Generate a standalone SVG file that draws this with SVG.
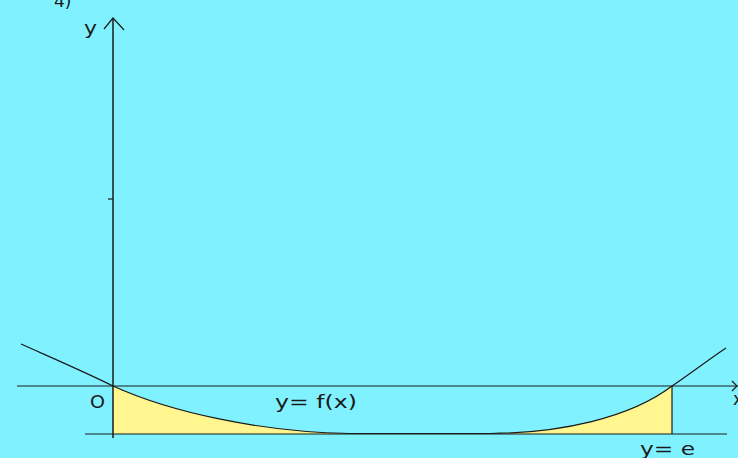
<svg xmlns="http://www.w3.org/2000/svg" width="738" height="458" viewBox="0 0 738 458">
<style>
.ax{stroke:#1a1a1a;stroke-width:1.5;fill:none}
.ln{stroke:#1a1a1a;stroke-width:1.2;fill:none}
.cv{stroke:#1a1a1a;stroke-width:1.2;fill:none}
.t{font-family:"DejaVu Sans",Verdana,sans-serif;font-size:17px;fill:#1a1a1a}
</style>
<rect width="738" height="458" fill="#80F2FF"/>
<g id="area">
<path d="M113,386 C170,412 260,432 350,433.5 L490,433.5 C560,433 630,418 672,386 L672,434 L113,434 Z" fill="#FFF68F"/>
</g>
<g id="connectors">
<line class="ln" x1="17" y1="386" x2="738" y2="386"/>
<polyline class="ln" points="732,381 737,386 732,391"/>
<line class="ln" x1="85" y1="434" x2="727" y2="434"/>
<line class="ln" x1="672" y1="386" x2="672" y2="434"/>
<line class="ax" x1="113" y1="18" x2="113" y2="438"/>
<polyline class="ln" points="104,29 113,18 124,30"/>
<line class="ln" x1="108" y1="199" x2="113" y2="199"/>
<path class="cv" d="M21,344 C50,357 85,372 113,386 C170,412 260,432 350,433.5 L490,433.5 C560,433 630,418 672,386 C690,374 708,360 726,348"/>
</g>
<g id="labels">
<text class="t" x="54" y="7">4)</text>
<text class="t" x="84" y="34" textLength="13" lengthAdjust="spacingAndGlyphs">y</text>
<text class="t" x="90" y="408" textLength="15" lengthAdjust="spacingAndGlyphs">O</text>
<text class="t" x="733" y="405">x</text>
<text class="t" x="275" y="408" textLength="82" lengthAdjust="spacingAndGlyphs">y=  f(x)</text>
<text class="t" x="640" y="455" textLength="55" lengthAdjust="spacingAndGlyphs">y=  e</text>
</g>
</svg>
